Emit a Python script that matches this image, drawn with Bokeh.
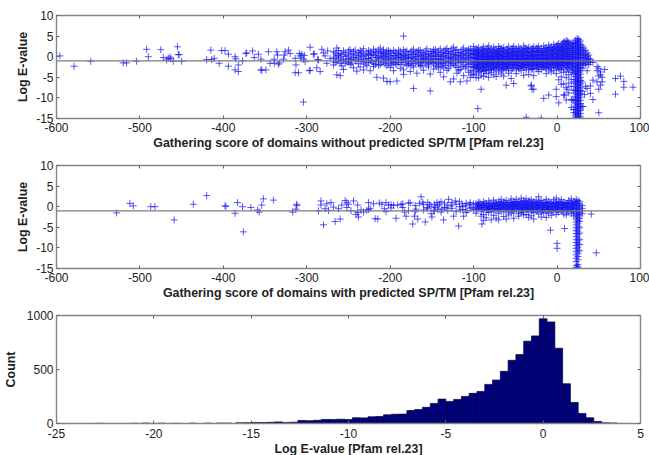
from bokeh.embed import file_html
from bokeh.resources import INLINE
from bokeh.models import FixedTicker, LinearAxis, Range1d, Span
from bokeh.plotting import figure
from bokeh.layouts import column

top_sparse = [(-596,.2),(-579,-2.3),(-559,-1.1),(-520,-1.5),(-516,-1.5),(-504,-1.1),(-492,1.8),(-490,0),(-475,1.7),(-472,-.2),(-468,-.8),(-466,-.4),(-464,-.1),(-463,-.5),(-460,-1.1),(-455,2.4),(-454,.5),(-453,.5),(-450,-1.1),(-420,-.7),(-415,1.6),(-414,-.7),(-411,-.4),(-405,-1.6),(-402,1.5),(-398,1.5),(-394,.6),(-394,-2.3),(-386,0),(-385,-.5),(-386,-3.2),(-382,-3.6),(-382,-2),(-377,-1),(-373,.8),(-372,.9),(-365,1.4),(-363,-.2),(-358,.6),(-355,-.6),(-355,-3.2),(-354,-3.3),(-349,-3.2),(-346,1.2),(-344,-1.6),(-339,-.6),(-339,-1.6),(-336,1.2),(-335,.4),(-334,-1.8),(-333,-1.5),(-328,-.6),(-327,.4),(-326,1.2),(-322,1.6),(-320,.8),(-314,-.4),(-313,-2),(-314,-3.9),(-310,-3.9),(-309,.8),(-308,.2),(-307,-.3),(-306,.6),(-304,-.6),(-303,.3),(-302,-1.2),(-304,-11),(-296,2.3),(-297,-3.4),(-296,-3.3),(-292,.6),(-291,.7),(-288,-2.7),(-287,-.7),(-286,-.8),(-284,-3.6),(-282,1.8),(-280,.9),(-278,.2),(-276,-1.6),(-275,1.4),(-272,-.4)]
top_left_band = [(-268,[1.2,-.5,-2]),(-264,[2.1,.4,-1.1,-4.4]),(-260,[.8,-.3,-1.6,-4.6]),(-256,[1.4,-.7,-3.1]),(-252,[.2,-1.2]),(-248,[1.7,.6,-.8,-1.9]),(-244,[1.2,-.2,-2.7]),(-240,[.4,-1,-3.5]),(-236,[1.5,.7,-.6,-2.5]),(-232,[1.9,.2,-1.3,-3.2]),(-228,[.9,-.4,-2.2]),(-224,[1.2,.3,-.9,-3.4]),(-220,[1.8,.6,-1.6,-2.4]),(-216,[1.1,-.2,-1.1,-5]),(-212,[2.1,.8,-.5,-1.9]),(-208,[1.7,1,.1,-1.2,-5.2]),(-204,[1.4,.4,-.7,-2.2,-6]),(-200,[1.2,.1,-1,-2.6,-6.1]),(-196,[1.5,.3,-1.4,-3.4]),(-192,[.8,-.4,-1.9,-5.9]),(-188,[1.3,.2,-1,-2.8]),(-184,[1.7,.4,-.7,-3.2,-4.3,5]),(-180,[1.4,.1,-1.2,-2.2]),(-176,[1.1,-.4,-1.7,-3.6]),(-172,[1.8,.5,-.8,-2.5,-7.7]),(-168,[1.2,0,-1.1,-4]),(-164,[1.6,.3,-1.4,-2.2]),(-160,[.9,-.3,-1,-3.3]),(-156,[1.9,.6,-.7,-2]),(-152,[1.3,.1,-1.2,-4.2,-8.3]),(-148,[1.6,.7,-.4,-1.6,-3]),(-144,[1.1,0,-1.3,-2.4]),(-140,[1.9,.5,-.6,-1.8,-3.8]),(-136,[1.4,.2,-1,-2.7,-4.9]),(-132,[2,.8,-.3,-1.5,-3.3]),(-128,[1.2,-.2,-1.1,-2.2,-6.1]),(-124,[2.3,.6,-.6,-1.8,-5.4]),(-120,[1.7,.3,-.9,-2.6,-4]),(-116,[1.1,.1,-1.3,-3.1,-6.1]),(-112,[2.1,.7,-.5,-2,-4.6]),(-108,[1.5,.3,-.8,-2.4,-5.9]),(-104,[1.9,.9,-.2,-1.6,-3.4,-5])]
top_left_fill = [(-266,[.9,-.1,-1.4]),(-262,[1.5,.2,-.8]),(-258,[.5,-1,-2.2]),(-254,[1,.1,-1.6]),(-250,[1.4,-.4,-1.3]),(-246,[.7,-.6,-1.6]),(-242,[1.6,.2,-.9]),(-238,[1,-.3,-1.7]),(-234,[1.2,.1,-1.1]),(-230,[.5,-.8,-1.8]),(-226,[1.5,.6,-.5,-1.4]),(-222,[.9,-.2,-1.2]),(-218,[1.3,.3,-.8,-1.9]),(-214,[1.6,.1,-1,-2.1]),(-210,[1.2,.4,-.3,-1.5]),(-206,[.8,-.1,-.9,-1.8]),(-202,[1.5,.6,-.5,-1.6]),(-198,[.9,-.3,-1.2,-2]),(-194,[1.1,.2,-.6,-1.7]),(-190,[1.6,.5,-.2,-1.4]),(-186,[.8,-.1,-.9,-1.9]),(-182,[1.2,.3,-.4,-1.5]),(-178,[.6,-.2,-1,-1.8]),(-174,[1.4,.5,-.3,-1.2,-2.1]),(-170,[.9,0,-.8,-1.6]),(-166,[1.5,.6,-.5,-1.8]),(-162,[1,.1,-.6,-1.3,-2.3]),(-158,[1.4,.4,-.4,-1.5]),(-154,[.7,-.1,-.9,-1.7,-2.5]),(-150,[1.2,.3,-.6,-1.4]),(-146,[1.8,.9,.1,-.8,-2]),(-142,[1.4,.4,-.5,-1.5,-2.7]),(-138,[1,.1,-.7,-1.6,-2.3]),(-134,[1.7,.8,-.1,-1.3,-2.1]),(-130,[1.3,.4,-.5,-1.2,-2.8]),(-126,[1.9,.9,0,-.9,-1.6]),(-122,[1.5,.5,-.3,-1.2,-2.2]),(-118,[1,.2,-.6,-1.5,-3.4]),(-114,[1.7,.7,-.2,-1.1,-2.4]),(-110,[1.3,.4,-.5,-1.4,-2.8]),(-106,[1.8,.8,0,-.9,-1.9,-3.8]),(-102,[1.4,.5,-.4,-1.3,-2.5,-4.4])]
top_mid_band = [(-100,[2.5,1.5,.7,-.2,-1,-1.8,-2.6,-3.5,-4.4]),(-97,[1.9,1,.2,-.6,-1.4,-2.2,-3,-4,-5.1]),(-94,[2.2,1.3,.4,-.5,-1.2,-2,-2.9,-3.7,-5.1]),(-91,[1.7,.8,0,-.8,-1.6,-2.4,-3.3,-4.5]),(-88,[2.4,1.4,.5,-.3,-1.1,-1.9,-2.7,-3.6,-4.8]),(-85,[1.8,.9,.1,-.7,-1.5,-2.3,-3.1,-4.1]),(-82,[2.6,1.5,.6,-.2,-1,-1.8,-2.6,-3.4,-5]),(-79,[1.9,1,.2,-.6,-1.4,-2.2,-3,-3.9]),(-76,[2.3,1.3,.4,-.4,-1.2,-2,-2.8,-4.4]),(-73,[1.7,.8,0,-.8,-1.6,-2.4,-3.3,-4.8]),(-70,[2.5,1.5,.6,-.3,-1.1,-1.9,-2.7,-3.7]),(-67,[2,1.1,.2,-.6,-1.4,-2.2,-3.1,-4.2]),(-64,[2.2,1.3,.4,-.5,-1.3,-2.1,-2.9,-4.7]),(-61,[1.8,.9,0,-.8,-1.6,-2.4,-3.2,-6.9]),(-58,[2.4,1.4,.5,-.3,-1.1,-1.9,-2.8,-4]),(-55,[1.9,1,.2,-.6,-1.4,-2.2,-3.4,-5.3]),(-52,[2.5,1.5,.6,-.3,-1.1,-1.9,-2.7,-6.5]),(-49,[2,1.1,.2,-.6,-1.4,-2.2,-3,-4.1]),(-46,[2.3,1.3,.4,-.5,-1.3,-2.1,-2.9]),(-43,[1.8,.9,0,-.8,-1.6,-2.4,-3.3]),(-40,[2.6,1.5,.6,-.3,-1.1,-1.9,-2.7,-4.5]),(-37,[2,1.1,.2,-.6,-1.4,-2.2,-3.2,-14.7]),(-34,[2.3,1.3,.4,-.5,-1.3,-2.1,-3,-4.3]),(-31,[1.9,1,.1,-.7,-1.5,-2.3,-3.1,-6.9]),(-28,[2.4,1.4,.5,-.3,-1.1,-1.9,-2.8,-4.6,-7.9]),(-25,[2.1,1.2,.3,-.6,-1.4,-2.2,-3]),(-22,[2.5,1.5,.6,-.3,-1.1,-1.9,-2.7,-3.6]),(-19,[2,1.1,.2,-.6,-1.4,-2.2,-3.1,-14.9]),(-16,[2.6,1.6,.7,-.2,-1,-1.8,-2.6,-10.1]),(-13,[2.2,1.3,.4,-.5,-1.3,-2.1,-2.9,-4.1]),(-10,[2.8,1.8,.9,0,-.8,-1.6,-2.4,-3.2,-9.3]),(-7,[2.4,1.5,.6,-.3,-1.1,-1.9,-2.8,-3.7]),(-4,[3,2,1.1,.2,-.6,-1.4,-2.2,-3.3]),(-1,[2.6,1.7,.8,-.1,-.9,-1.7,-2.6,-4.1,-7.9,-9.7]),(2,[3.2,2.2,1.3,.4,-.4,-1.2,-2,-2.9,-5.6,-11.2]),(5,[2.9,2,1.1,.2,-.6,-1.4,-2.2,-3.2,-4.9,-6.7]),(8,[3.6,2.6,1.7,.8,-.1,-.9,-1.7,-2.6,-3.8,-6.6,-9.3]),(11,[3.9,3,2,1.1,.2,-.6,-1.4,-2.3,-3.5,-5.1,-10.5,-7.5]),(14,[3.5,2.5,1.5,.6,-.3,-1.1,-1.9,-3,-4.4,-6.4,-8.8]),(17,[3.3,2.3,1.4,.5,-.4,-1.2,-2.2,-3.8,-5.5,-7.2,-10.4,-12.3]),(20,[3.4,2.4,1.5,.6,-.3,-1.1,-2,-3,-4.2,-6.1,-8.2,-10.6,-13.6])]
top_mid_fill = [(-98.5,[1.5,.5,-.4,-1.3,-2.4]),(-95.5,[1.7,.7,-.1,-1,-1.9,-2.7]),(-92.5,[1.2,.2,-.7,-1.5,-2.5,-3.4]),(-89.5,[1.9,.9,.1,-.9,-1.8,-2.9]),(-86.5,[1.4,.4,-.4,-1.2,-2.1,-3.3]),(-83.5,[2,1,.2,-.7,-1.6,-2.5]),(-80.5,[1.6,.6,-.3,-1.2,-2,-3.1]),(-77.5,[1.1,.1,-.8,-1.7,-2.6]),(-74.5,[1.8,.9,0,-.9,-1.8,-2.9]),(-71.5,[1.3,.4,-.5,-1.3,-2.2]),(-68.5,[2,1,.2,-.7,-1.6,-2.6]),(-65.5,[1.6,.6,-.2,-1.1,-1.9,-3.2]),(-62.5,[1.1,.1,-.8,-1.7,-2.7]),(-59.5,[1.8,.8,0,-.9,-1.7,-2.5]),(-56.5,[1.4,.4,-.5,-1.3,-2.3]),(-53.5,[2,1,.1,-.8,-1.6,-2.8]),(-50.5,[1.6,.6,-.3,-1.2,-2]),(-47.5,[1.2,.2,-.7,-1.5,-2.5]),(-44.5,[1.9,.9,0,-.9,-1.8,-2.9]),(-41.5,[1.4,.4,-.4,-1.3,-2.2]),(-38.5,[2.1,1.1,.2,-.7,-1.6,-2.6]),(-35.5,[1.7,.7,-.2,-1.1,-1.9]),(-32.5,[1.3,.3,-.6,-1.5,-2.5]),(-29.5,[1.9,.9,.1,-.8,-1.7,-2.9]),(-26.5,[1.5,.5,-.4,-1.2,-2.1]),(-23.5,[2,1,.1,-.8,-1.6,-2.5]),(-20.5,[1.6,.6,-.3,-1.2,-2]),(-17.5,[1.2,.3,-.6,-1.5,-2.4]),(-14.5,[2,1,.2,-.7,-1.6,-2.6]),(-11.5,[1.6,.6,-.3,-1.1,-2]),(-8.5,[2.2,1.2,.3,-.6,-1.5,-2.6]),(-5.5,[1.8,.8,-.1,-1,-1.8]),(-2.5,[2.3,1.4,.5,-.5,-1.3,-2.3]),(.5,[2.8,1.8,.9,0,-.9,-1.6,-2.5]),(3.5,[2.4,1.5,.6,-.3,-1.1,-1.9,-3.1]),(6.5,[3.2,2.2,1.3,.4,-.5,-1.3,-2.2]),(9.5,[3.5,2.4,1.5,.6,-.3,-1.2,-2.1]),(12.5,[3.7,2.8,1.8,.9,0,-.9,-1.7,-2.8]),(15.5,[3.1,2,1.1,.2,-.7,-1.5,-2.5]),(18.5,[2.9,1.9,1,.1,-.8,-1.6,-2.6,-3.4])]
top_column = [(22,[4,3.2,2.4,1.6,.8,0,-.8,-1.6,-2.4,-3.2,-4,-4.8,-5.6,-6.4,-7.2,-8,-8.8,-9.6,-10.4,-11.2,-12,-12.8,-13.6,-14.4,-14.9]),(24,[4.4,3.6,2.8,2,1.2,.4,-.4,-1.2,-2,-2.8,-3.6,-4.4,-5.2,-6,-6.8,-7.6,-8.4,-9.2,-10,-10.8,-11.6,-12.4,-13.2,-14,-14.8]),(25,[4,3,2.2,1.4,.6,-.2,-1,-1.8,-2.6,-3.4,-4.2,-5,-5.8,-6.6,-7.4,-8.2,-9,-9.8,-10.6,-11.4,-12.2,-13,-13.8,-14.6]),(26,[4.2,3.4,2.6,1.8,1,.2,-.6,-1.4,-2.2,-3,-3.8,-4.6,-5.4,-6.2,-7,-7.8,-8.6,-9.4,-10.2,-11,-11.8,-12.6,-13.4,-14.2,-14.9]),(28,[3.8,3,2.2,1.4,.6,-.2,-1,-1.8,-2.6,-3.4,-4.2,-5,-5.8,-6.6,-7.4,-8.2,-9,-9.8,-10.6,-11.4,-12.2,-13,-13.8,-14.6]),(30,[2.6,1.7,.8,-.1,-.9,-1.7,-2.9,-6.1,-8.4,-12.1]),(32,[2.1,1.2,.3,-.5,-1.3,-2.1]),(34,[1.5,.6,-.2,-1,-1.8,-7.2]),(36,[.9,.1,-.7,-1.5,-7.7,-3.4]),(38,[.4,-.4,-1.2,-1.9]),(40,[-.6,-1.3,-7.1,-8.9]),(43,[-1.4,-5.7,-10.4]),(48,[-2.4,-6.1,-3.4]),(50,[-2.8,-7.9,-13.6,-4.7]),(52,[-4.4,-3.7,-6.9]),(54,[-6.1,-5]),(57,[-3.1]),(70,[-5.3,-9.1]),(76,[-4.7]),(80,[-6,-7.4]),(91,[-7.4]),(100,[-12.1])]
top_extra = [(-95,-12.6),(-91,-7.9),(-30,-7.9),(-31,-7.1),(9,-9.3),(12,-7.9),(18,-10.5),(20,-12.8),(31,-12.1),(33,-9.2)]

mid_sparse = [(-528,-1.5),(-512,.8),(-508,.2),(-487,0),(-482,0),(-459,-3.2),(-436,.6),(-420,2.7),(-398,.2),(-397,.1),(-383,1),(-386,-1.6),(-377,0),(-376,-6.1),(-367,-.2),(-359,-.8),(-357,-1.3),(-354,.4),(-352,1.9),(-340,1.6),(-317,-1.3),(-313,-.6),(-312,.6),(-312,.3),(-286,-1),(-283,1.4),(-283,.4),(-280,-4.4),(-278,-.5),(-276,.7),(-274,-.9),(-271,1),(-268,-.1),(-266,-3.6),(-262,-.5),(-260,-3),(-258,.4),(-254,1.5),(-250,.6),(-247,-1),(-244,1.4),(-241,-1.9),(-238,-2.5),(-235,-.8),(-232,-1.3),(-228,-.9),(-224,-.4),(-220,.7),(-218,-2.9),(-215,-3),(-213,.9),(-210,.6),(-207,-.5),(-202,.4),(-196,.3),(-193,-2.8),(-191,.4),(-187,.5),(-183,-1.3),(-181,-2.3),(-176,.9),(-173,-4.2),(-171,-2.3),(-169,-.6),(-167,-3),(-165,.8),(-163,2.4),(-161,1.1),(-158,-3.7),(-156,-.2),(-153,.5),(-150,-2.5),(-148,-.9),(-146,-.2),(-144,1),(-141,.6),(-138,-.6),(-136,-3.2),(-133,-.3),(-130,1.8),(-127,.2),(-124,-2.3),(-122,1.4),(-118,-4.7),(-116,-.8),(-114,.7),(-112,-2.3),(-110,.2),(-108,-.9),(-105,.5),(-102,-.2),(-90,-4.2),(47,-11.2),(41,-1.8),(-8,-5.7),(9,-5.3),(0,-8.9),(0,-10.1)]
mid_left_fill = [(-252,[1,-.2]),(-239,[.4,-1.4]),(-226,[1,-.7]),(-205,[1,-1.2]),(-199,[.5,-.3]),(-185,[.7,-.2]),(-178,[.9,-.9]),(-170,[.3,-1.2]),(-160,[.5,-.8]),(-155,[1,-.5]),(-151,[.1,-1.7]),(-147,[.6,-1.1]),(-143,[.2,-.6]),(-139,[1.2,-1.3]),(-135,[.9,-.2]),(-131,[.4,-.9]),(-126,[1,-.4]),(-121,[.6,-1.2]),(-117,[1.2,0]),(-113,[.1,-.7]),(-109,[.8,-1.4]),(-104,[1,-.4]),(-100,[.7,-.8])]
mid_band = [(-97,[.7,.1,-.7,-1.6]),(-94,[1.1,.3,-.3]),(-91,[.6,-.2,-1.1,-2.3]),(-88,[1.2,.4,-.6,-1.9,-3.3]),(-85,[.8,0,-.9,-2.7]),(-82,[1.4,.3,-.4,-1.4]),(-79,[.6,-.2,-1.2,-3.2]),(-76,[1.6,.7,-.5,-2.1]),(-73,[1,.1,-.8,-2.8]),(-70,[1.3,.5,-.4,-1.6,-3.2]),(-67,[1.8,.7,-.1,-1.1]),(-64,[1.1,.3,-.7,-2.4]),(-61,[1.5,.6,-.3,-1.3,-3]),(-58,[.9,.1,-.8,-2]),(-55,[1.9,1,.2,-.6,-1.6]),(-52,[1.3,.5,-.3,-1.2,-2.8]),(-49,[1.8,.8,0,-.9]),(-46,[1.2,.4,-.5,-1.7,-2.3]),(-43,[2.1,1.1,.2,-.7,-1.4]),(-40,[1.5,.7,-.1,-1,-2]),(-37,[1.9,1,.2,-.6,-1.9]),(-34,[1.4,.6,-.3,-1.2,-2.6]),(-31,[1.7,.8,0,-.8,-2.2]),(-28,[1.2,.4,-.5,-1.4,-3]),(-25,[1.6,.7,-.1,-1]),(-22,[2.4,1.2,.3,-.6,-1.8]),(-19,[1.5,.6,-.3,-1.2,-2.5]),(-16,[1,.2,-.7,-1.5]),(-13,[1.8,.9,0,-.8,-2.6]),(-10,[1.3,.4,-.5,-1.6]),(-7,[.9,.1,-.8,-2.1]),(-4,[1.7,.8,-.1,-1]),(-1,[2.1,1,.2,-.6,-1.9]),(2,[1.3,.5,-.4,-1.3]),(5,[1.7,.7,-.2,-1]),(8,[1.1,.3,-.6,-1.8]),(11,[.8,0,-.9,-2]),(14,[1.5,.6,-.3,-1.2]),(17,[1.9,.9,.1,-.7,-1.7]),(20,[1.3,.5,-.4,-1.3,-2.2])]
mid_fill = [(-95.5,[.5,-.4]),(-92.5,[.9,0]),(-89.5,[.4,-.6]),(-86.5,[.8,-.2]),(-83.5,[.3,-.7]),(-80.5,[.9,.1,-.5]),(-77.5,[.4,-.4]),(-74.5,[.8,0,-.8]),(-71.5,[.3,-.5]),(-68.5,[1,.2,-.6]),(-65.5,[.6,-.2]),(-62.5,[1,.2,-.5]),(-59.5,[.5,-.3]),(-56.5,[1,.2,-.6]),(-53.5,[.7,-.1,-.8]),(-50.5,[1.1,.3,-.5]),(-47.5,[.7,-.1]),(-44.5,[1.1,.3,-.5]),(-41.5,[.6,-.2,-.9]),(-38.5,[1.2,.4,-.4]),(-35.5,[.8,0,-.7]),(-32.5,[1.2,.3,-.5]),(-29.5,[.7,-.1,-.9]),(-26.5,[1,.2,-.6]),(-23.5,[.6,-.2,-.9]),(-20.5,[1,.2,-.6]),(-17.5,[.6,-.2,-.9]),(-14.5,[1,.2,-.6]),(-11.5,[.6,-.2,-1]),(-8.5,[.9,.1,-.7]),(-5.5,[.5,-.3,-1]),(-2.5,[.9,.1,-.7]),(.5,[.6,-.2,-.9]),(3.5,[1,.2,-.6]),(6.5,[.6,-.2,-1]),(9.5,[1,.2,-.6]),(12.5,[.7,-.1,-.9]),(15.5,[1,.2,-.6]),(18.5,[.7,-.1,-.9]),(21.5,[1.2,.4,-.4])]
mid_column = [(23,[1.7,1,.4,-.3,-1,-1.6,-2.3,-3,-3.7,-4.4,-5.1,-5.8,-6.5,-7.2,-8,-8.7,-9.4,-10.1,-10.9,-11.7,-12.5,-13.3,-14.3,-14.8]),(25,[1.5,.8,.1,-.6,-1.2,-1.9,-2.6,-3.3,-4,-4.7,-5.4,-6.1,-6.8,-7.6,-8.3,-9,-9.8,-10.5,-11.3,-12.1,-12.9,-14,-14.6,-14.9]),(27,[1.2,.6,-.1,-.8,-1.5,-2.2,-2.9,-3.6,-5,-6.4,-8,-9.2,-10.7]),(30,[.3,-.4,-1,-1.7])]

hist_centers = [-22.8,-21,-20.4,-19.6,-18.8,-18,-17.2,-16.6,-16.2,-15.6,-15.2,-14.8,-14.4,-14,-13.6,-13.2,-12.8,-12.4,-12,-11.6,-11.2,-10.8,-10.4,-10,-9.6,-9.2,-8.8,-8.4,-8,-7.6,-7.2,-6.8,-6.4,-6,-5.6,-5.2,-4.8,-4.4,-4,-3.6,-3.2,-2.8,-2.4,-2,-1.6,-1.2,-.8,-.4,0,.4,.8,1.2,1.6,2,2.4,2.8,3.2,3.6]
hist_counts = [2,2,4,3,2,3,3,4,4,6,8,10,9,11,15,10,12,28,26,30,38,36,40,36,53,52,62,65,80,86,87,120,130,150,186,226,204,223,251,279,297,362,402,483,585,638,762,811,970,940,697,368,195,93,53,19,6,5]

WIDTH, GRAY, FONT = 649, "#848484", "Liberation Sans"

def expand(cols):
    return [(x, y) for x, ys in cols for y in ys]

def make(xr, yr, xt, yt, xlabel, ylabel, h, top, ylab_standoff, xtick_standoff):
    p = figure(width=WIDTH, height=h, output_backend="svg", toolbar_location=None,
               x_range=Range1d(*xr), y_range=Range1d(*yr), min_border_left=56,
               min_border_right=9, min_border_top=top, min_border_bottom=20,
               x_axis_label=xlabel, y_axis_label=ylabel, outline_line_color=None,
               background_fill_color="white", border_fill_color=None)
    p.grid.visible = False
    for ax, t in ((p.xaxis[0], xt), (p.yaxis[0], yt)):
        ax.ticker = FixedTicker(ticks=t)
        ax.major_label_overrides = {v: str(v) for v in t}
        ax.minor_tick_line_color = None
        ax.major_tick_in, ax.major_tick_out = 3, 0
        ax.axis_line_color = GRAY
        ax.axis_line_width = 1.4
        ax.major_tick_line_color = "#666666"
        ax.major_label_text_font = FONT
        ax.major_label_text_font_size = "12px"
        ax.major_label_text_color = "#222222"
        ax.axis_label_text_font = FONT
        ax.axis_label_text_font_size = "12.4px"
        ax.axis_label_text_font_style = "bold"
        ax.axis_label_text_color = "#222222"
    p.xaxis[0].major_label_standoff = xtick_standoff
    p.xaxis[0].axis_label_standoff = 1
    p.yaxis[0].major_label_standoff = 3
    p.yaxis[0].axis_label_standoff = ylab_standoff
    for t, where in ((xt, "above"), (yt, "right")):
        a = LinearAxis(ticker=FixedTicker(ticks=t), major_label_overrides={v: "" for v in t},
                       minor_tick_line_color=None, major_tick_in=3, major_tick_out=0,
                       axis_line_color=GRAY, axis_line_width=1.4, major_tick_line_color="#666666",
                       major_label_standoff=0)
        p.add_layout(a, where)
    return p

def scatter(p, pts):
    p.scatter([a for a, _ in pts], [b for _, b in pts], marker="cross", size=7,
              line_color="#1414f0", line_alpha=0.7, line_width=1)
    p.add_layout(Span(location=-1, dimension="width", line_color="#7c7c7c", line_width=1.2))

xt, yt = [-600,-500,-400,-300,-200,-100,0,100], [-15,-10,-5,0,5,10]
p1 = make((-600,100), (-15,10), xt, yt, "Gathering score of domains without predicted SP/TM [Pfam rel.23]",
          "Log E-value", 152, 15, 3, 4)
scatter(p1, top_sparse + expand(top_left_band) + expand(top_left_fill) + expand(top_mid_band) + expand(top_mid_fill) + expand(top_column) + top_extra)
p2 = make((-600,100), (-15,10), xt, yt, "Gathering score of domains with predicted SP/TM [Pfam rel.23]",
          "Log E-value", 150, 13, 3, 4)
scatter(p2, mid_sparse + expand(mid_left_fill) + expand(mid_band) + expand(mid_fill) + expand(mid_column))
p3 = make((-25,5), (0,1000), [-25,-20,-15,-10,-5,0,5], [0,500,1000], "Log E-value [Pfam rel.23]",
          "Count", 156, 13, 6, 5)
p3.vbar(x=hist_centers, top=hist_counts, width=0.4, bottom=0, fill_color="#00007c", line_color="#000033", line_width=0.7)
p3.margin = (0, 0, -3, 0)

open("out.html", "w").write(file_html(column(p1, p2, p3, spacing=0), INLINE))
